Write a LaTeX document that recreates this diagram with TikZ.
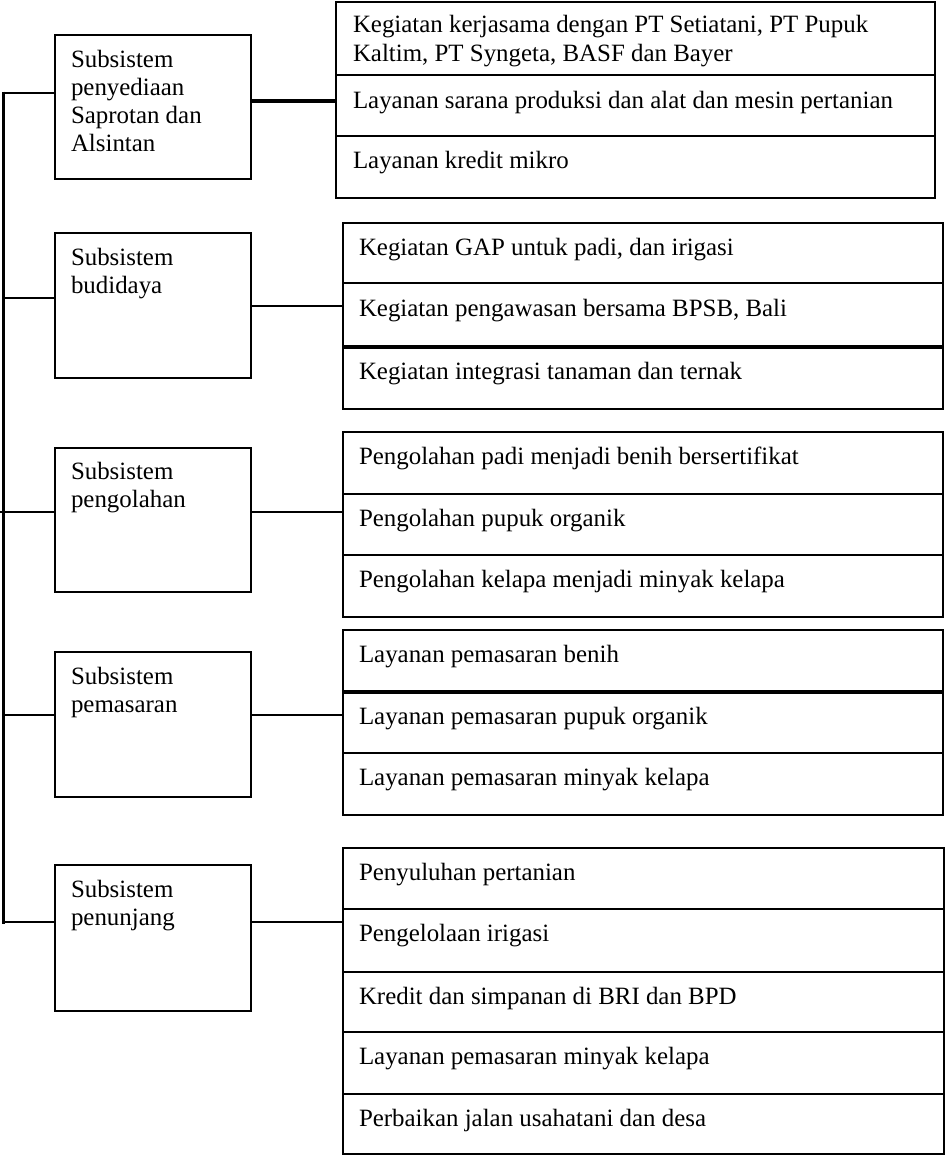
\documentclass[tikz,border=0pt]{standalone}
\usepackage{fontspec}
\setmainfont{Liberation Serif}
\usetikzlibrary{calc}
\begin{document}
\begin{tikzpicture}[x=1pt,y=-1pt,
  subbox/.style={draw, line width=2pt, anchor=north west, inner sep=0pt, outer sep=0pt},
  panel/.style={draw, line width=2pt, anchor=north west, inner sep=0pt, outer sep=0pt},
  link/.style={line width=2pt},
  heavylink/.style={line width=3.5pt},
  spine/.style={line width=3pt},
  divider/.style={line width=2pt},
  heavydivider/.style={line width=3.5pt},
  txt/.style={anchor=base west, inner sep=0pt, outer sep=0pt, font=\fontsize{24.9}{28}\selectfont},
]
\useasboundingbox (0,0) rectangle (945,1156);

% ---- subsystem boxes (left column) ----
\node[subbox, minimum width=196pt, minimum height=144pt] (s1) at (55,35) {};
\node[subbox, minimum width=196pt, minimum height=145pt] (s2) at (55,233) {};
\node[subbox, minimum width=196pt, minimum height=144pt] (s3) at (55,448) {};
\node[subbox, minimum width=196pt, minimum height=145pt] (s4) at (55,652) {};
\node[subbox, minimum width=196pt, minimum height=146pt] (s5) at (55,865) {};

\node[txt] (s1a) at (71,67)  {Subsistem};
\node[txt] (s1b) at (71,95)  {penyediaan};
\node[txt] (s1c) at (71,123) {Saprotan dan};
\node[txt] (s1d) at (71,151) {Alsintan};

\node[txt] (s2a) at (71,265) {Subsistem};
\node[txt] (s2b) at (71,293) {budidaya};

\node[txt] (s3a) at (71,479) {Subsistem};
\node[txt] (s3b) at (71,507) {pengolahan};

\node[txt] (s4a) at (71,684) {Subsistem};
\node[txt] (s4b) at (71,712) {pemasaran};

\node[txt] (s5a) at (71,897) {Subsistem};
\node[txt] (s5b) at (71,925) {penunjang};

% ---- activity panels (right column) ----
\node[panel, minimum width=599pt, minimum height=196pt] (p1) at (336,2) {};
\node[panel, minimum width=600pt, minimum height=186pt] (p2) at (343,223) {};
\node[panel, minimum width=600pt, minimum height=185pt] (p3) at (343,432) {};
\node[panel, minimum width=600pt, minimum height=185pt] (p4) at (343,630) {};
\node[panel, minimum width=601pt, minimum height=306pt] (p5) at (343,848) {};

% row separators inside the panels
\draw[divider] (p1.west |- 0,75)  -- (p1.east |- 0,75);
\draw[divider] (p1.west |- 0,136) -- (p1.east |- 0,136);

\draw[divider]      (p2.west |- 0,283) -- (p2.east |- 0,283);
\draw[heavydivider] (p2.west |- 0,347) -- (p2.east |- 0,347);

\draw[divider] (p3.west |- 0,494) -- (p3.east |- 0,494);
\draw[divider] (p3.west |- 0,555) -- (p3.east |- 0,555);

\draw[heavydivider] (p4.west |- 0,692) -- (p4.east |- 0,692);
\draw[divider]      (p4.west |- 0,753) -- (p4.east |- 0,753);

\draw[divider] (p5.west |- 0,909)  -- (p5.east |- 0,909);
\draw[divider] (p5.west |- 0,972)  -- (p5.east |- 0,972);
\draw[divider] (p5.west |- 0,1032) -- (p5.east |- 0,1032);
\draw[divider] (p5.west |- 0,1094) -- (p5.east |- 0,1094);

% panel texts
\node[txt] (t11) at (353,33)  {Kegiatan kerjasama dengan PT Setiatani, PT Pupuk};
\node[txt] (t12) at (353,62)  {Kaltim, PT Syngeta, BASF dan Bayer};
\node[txt] (t13) at (353,108) {Layanan sarana produksi dan alat dan mesin pertanian};
\node[txt] (t14) at (353,168) {Layanan kredit mikro};

\node[txt] (t21) at (359,255) {Kegiatan GAP untuk padi, dan irigasi};
\node[txt] (t22) at (359,316) {Kegiatan pengawasan bersama BPSB, Bali};
\node[txt] (t23) at (359,379) {Kegiatan integrasi tanaman dan ternak};

\node[txt] (t31) at (359,464) {Pengolahan padi menjadi benih bersertifikat};
\node[txt] (t32) at (359,526) {Pengolahan pupuk organik};
\node[txt] (t33) at (359,587) {Pengolahan kelapa menjadi minyak kelapa};

\node[txt] (t41) at (359,662) {Layanan pemasaran benih};
\node[txt] (t42) at (359,724) {Layanan pemasaran pupuk organik};
\node[txt] (t43) at (359,785) {Layanan pemasaran minyak kelapa};

\node[txt] (t51) at (359,880)  {Penyuluhan pertanian};
\node[txt] (t52) at (359,941)  {Pengelolaan irigasi};
\node[txt] (t53) at (359,1004) {Kredit dan simpanan di BRI dan BPD};
\node[txt] (t54) at (359,1064) {Layanan pemasaran minyak kelapa};
\node[txt] (t55) at (359,1126) {Perbaikan jalan usahatani dan desa};

% ---- spine on the left and its branches ----
\coordinate (j1) at (3,93);
\coordinate (j2) at (3,298);
\coordinate (j3) at (3,512);
\coordinate (j4) at (3,715);
\coordinate (j5) at (3,922);
\draw[spine] ($(j1)+(0,-1.5)$) -- ($(j5)+(0,1.5)$);
\draw[link] (j1) -- (j1 -| s1.west);
\draw[link] (j2) -- (j2 -| s2.west);
\draw[link] ($(j3)+(-3,0)$) -- (j3 -| s3.west);
\draw[link] (j4) -- (j4 -| s4.west);
\draw[link] (j5) -- (j5 -| s5.west);

% ---- links from each subsystem to its panel ----
\coordinate (c1) at (251,101);
\coordinate (c2) at (251,306);
\coordinate (c3) at (251,512);
\coordinate (c4) at (251,715);
\coordinate (c5) at (251,922);
\draw[heavylink] (c1 -| s1.east) -- (c1 -| p1.west);
\draw[link] (c2 -| s2.east) -- (c2 -| p2.west);
\draw[link] (c3 -| s3.east) -- (c3 -| p3.west);
\draw[link] (c4 -| s4.east) -- (c4 -| p4.west);
\draw[link] (c5 -| s5.east) -- (c5 -| p5.west);
\end{tikzpicture}
\end{document}
